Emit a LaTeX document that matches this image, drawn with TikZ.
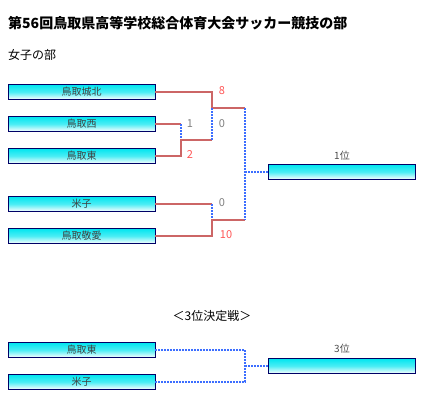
\documentclass[tikz,border=0pt]{standalone}
\usepackage{fontspec}
\setmainfont{Noto Sans CJK JP}
\usepackage{tikz}
\usetikzlibrary{positioning,calc}

\definecolor{boxtop}{RGB}{0,230,240}
\definecolor{boxedge}{RGB}{0,0,102}
\definecolor{winred}{RGB}{204,102,102}
\definecolor{scorered}{RGB}{255,85,85}
\definecolor{dotblue}{RGB}{60,110,255}

\tikzset{
  team/.style={draw=boxedge, line width=0.9pt, top color=boxtop, bottom color=white,
    middle color=boxtop!70!white, minimum width=147pt, minimum height=15pt,
    inner sep=0pt, font=\fontsize{10}{10}\selectfont, text=black!75},
  winline/.style={winred, line width=2pt},
  openline/.style={dotblue, line width=2pt, dash pattern=on 2pt off 1pt},
  score/.style={font=\fontsize{11}{11}\selectfont, text=gray},
  wscore/.style={score, text=scorered}
}

\begin{document}
\begin{tikzpicture}[x=1pt, y=-1pt]
    \useasboundingbox (0,0) rectangle (439,408);

    \node[anchor=west, inner sep=0pt, font=\fontsize{14}{14}\selectfont\bfseries] (title) at (8,23) {第56回鳥取県高等学校総合体育大会サッカー競技の部};
    \node[anchor=west, inner sep=0pt, font=\fontsize{12}{12}\selectfont] (sect) at (8,55) {女子の部};

    % Teams
    \node[team] (t1) at (81.5,92) {鳥取城北};
    \node[team] (t2) at (81.5,124) {鳥取西};
    \node[team] (t3) at (81.5,156) {鳥取東};
    \node[team] (t4) at (81.5,204) {米子};
    \node[team] (t5) at (81.5,236) {鳥取敬愛};
    \node[team] (champ) at (342,172) {};
    \node[font=\fontsize{10}{10}\selectfont, text=black!70] (champl) at (342,156) {1位};

    % Junctions
    \coordinate (m1) at (181,140);
    \coordinate (s1) at (212,108);
    \coordinate (s2) at (212,220);
    \coordinate (f1) at (245,172);

    % First round
    \draw[winline] (t2.east) -- (t2.east -| m1);
    \draw[openline] (t2.east -| m1) -- (m1);
    \draw[winline] (t3.east) -| (m1) -- (m1 -| s1);
    \node[score] (sc2) at (190,124) {1};
    \node[wscore] (sc3) at (190,155) {2};

    % Semi-finals
    \draw[winline] (t1.east) -| (s1) -- (s1 -| f1);
    \draw[openline] (m1 -| s1) -- (s1);
    \node[wscore] (sc1) at (222,91) {8};
    \node[score] (scm1) at (222,124) {0};

    \draw[winline] (t4.east) -- (t4.east -| s2);
    \draw[openline] (t4.east -| s2) -- (s2);
    \draw[winline] (t5.east) -| (s2) -- (s2 -| f1);
    \node[score] (sc4) at (222,203) {0};
    \node[wscore] (sc5) at (226,235) {10};

    % Final
    \draw[openline] (s1 -| f1) -- (s2 -| f1);
    \draw[openline] (f1) -- (champ.west);

    % Third place
    \node[font=\fontsize{12}{12}\selectfont] (third) at (212,316) {＜3位決定戦＞};
    \node[team] (b1) at (81.5,350) {鳥取東};
    \node[team] (b2) at (81.5,382) {米子};
    \node[team] (bronze) at (342,366) {};
    \node[font=\fontsize{10}{10}\selectfont, text=black!70] (bronzel) at (342,349) {3位};
    \coordinate (f3) at (245,366);
    \draw[openline] (b1.east) -| (f3) |- (b2.east);
    \draw[openline] (f3) -- (bronze.west);
\end{tikzpicture}
\end{document}
